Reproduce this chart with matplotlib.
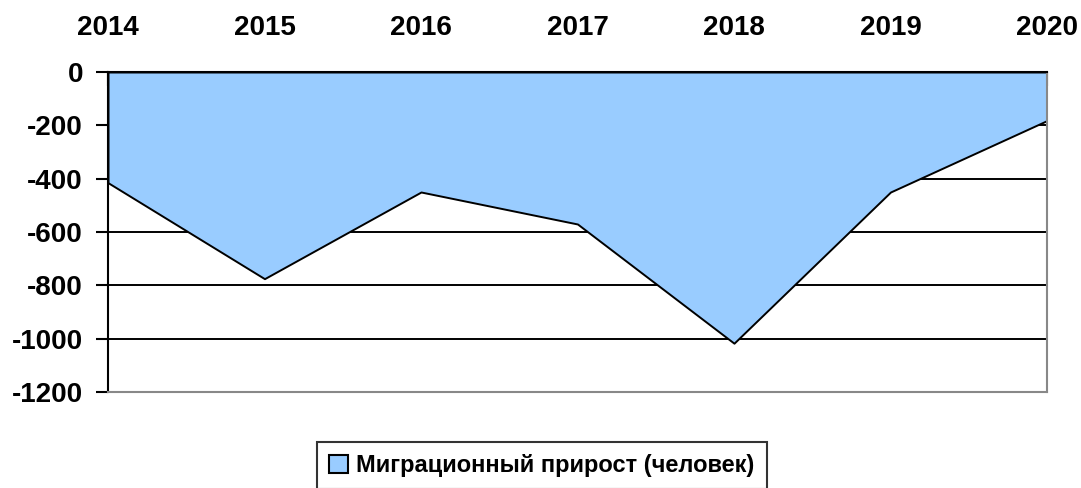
import numpy as np
import matplotlib.pyplot as plt
from matplotlib.patches import Patch

years = ['2014', '2015', '2016', '2017', '2018', '2019', '2020']
migration = [-415, -775, -450, -570, -1017, -450, -182]
yticks = [0, -200, -400, -600, -800, -1000, -1200]
legend_label = 'Миграционный прирост (человек)'

plt.rcParams['font.family'] = ['Liberation Sans', 'DejaVu Sans']
plt.rcParams['font.weight'] = 'bold'

fig = plt.figure(figsize=(10.81, 4.88), dpi=100)
W, H = 1081, 488
ax = fig.add_axes([108 / W, 1 - 392 / H, (1047 - 108) / W, (392 - 72) / H])

x = np.arange(len(years))
ax.fill_between(x, 0, migration, facecolor='#99ccff', edgecolor='black',
                linewidth=1.4, zorder=2)

ax.set_xlim(0, len(years) - 1)
ax.set_ylim(-1200, 0)

# grid behind the area
for v in yticks[1:]:
    ax.axhline(v, color='black', linewidth=1.4, zorder=1)

ax.xaxis.tick_top()
ax.set_xticks(x)
ax.set_xticklabels(years, fontweight='bold')
ax.tick_params(axis='x', direction='in', length=10, width=1.5, pad=22,
               labelsize=20, colors='black')
ax.set_yticks(yticks)
ax.set_yticklabels([str(v) for v in yticks], fontweight='bold')
ax.tick_params(axis='y', direction='out', length=9, width=1.5, pad=9,
               labelsize=20)

ax.spines['top'].set_color('black')
ax.spines['top'].set_linewidth(1.5)
ax.spines['left'].set_color('black')
ax.spines['left'].set_linewidth(1.5)
ax.spines['bottom'].set_color('#888888')
ax.spines['bottom'].set_linewidth(1.5)
ax.spines['right'].set_color('#888888')
ax.spines['right'].set_linewidth(1.5)
ax.spines['top'].set_zorder(3)

handle = Patch(facecolor='#99ccff', edgecolor='black', linewidth=1.5)
leg = fig.legend([handle], [legend_label], loc='upper center',
                 bbox_to_anchor=(542 / W, 1 - 442 / H), frameon=True,
                 fancybox=False, edgecolor='black',
                 prop={'size': 17, 'weight': 'bold'},
                 handlelength=0.8, handleheight=0.8, handletextpad=0.35,
                 borderpad=0.5, borderaxespad=0)
leg.get_frame().set_linewidth(1.5)

fig.savefig('out.png', dpi=100)
